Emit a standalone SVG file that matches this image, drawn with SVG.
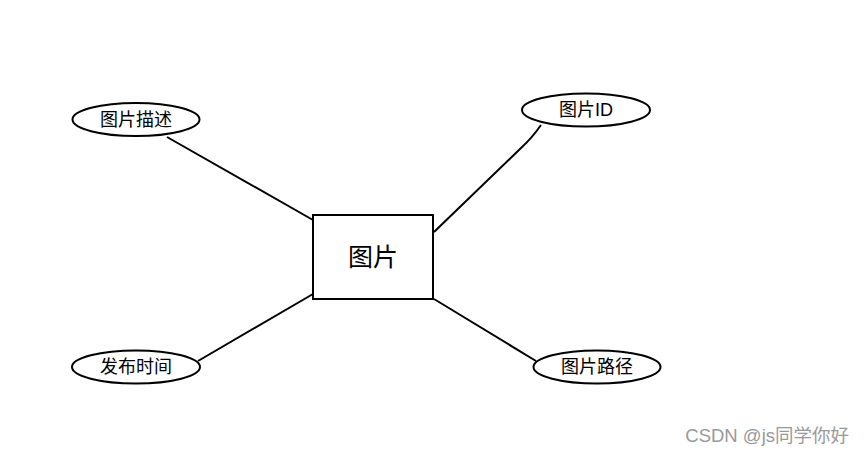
<svg xmlns="http://www.w3.org/2000/svg" width="865" height="456" viewBox="0 0 865 456">
<style>
.s{fill:#fff;stroke:#000;stroke-width:2}
.t{font-family:"Liberation Sans","Noto Sans CJK SC",sans-serif;font-size:18px;fill:#000;text-anchor:middle;dominant-baseline:central}
.c line,.c path{stroke:#000;stroke-width:2;fill:none}
</style>
<rect width="865" height="456" fill="#fff"/>
<g class="c" id="connectors">
<line x1="167" y1="137" x2="313" y2="220"/>
<path d="M541,125 Q532,138 521,148 L434,232"/>
<line x1="198" y1="361" x2="313" y2="294"/>
<line x1="434" y1="299" x2="536" y2="361"/>
</g>
<g id="n-center"><rect class="s" x="313" y="215" width="120" height="84"/><text class="t" x="373" y="257" style="font-size:25px">图片</text></g>
<g id="n-desc"><ellipse class="s" cx="136" cy="119.5" rx="63.5" ry="16.5"/><text class="t" x="136" y="119.5">图片描述</text></g>
<g id="n-id"><ellipse class="s" cx="586" cy="110" rx="64" ry="16.5"/><text class="t" x="586" y="110">图片ID</text></g>
<g id="n-time"><ellipse class="s" cx="136" cy="367" rx="64" ry="16.5"/><text class="t" x="136" y="367">发布时间</text></g>
<g id="n-path"><ellipse class="s" cx="597" cy="367" rx="63.5" ry="16.5"/><text class="t" x="597" y="367">图片路径</text></g>
<text x="849" y="442" style="font-family:'Liberation Sans','Noto Sans CJK SC',sans-serif;font-size:18.5px;fill:#999;text-anchor:end">CSDN @js同学你好</text>
</svg>
